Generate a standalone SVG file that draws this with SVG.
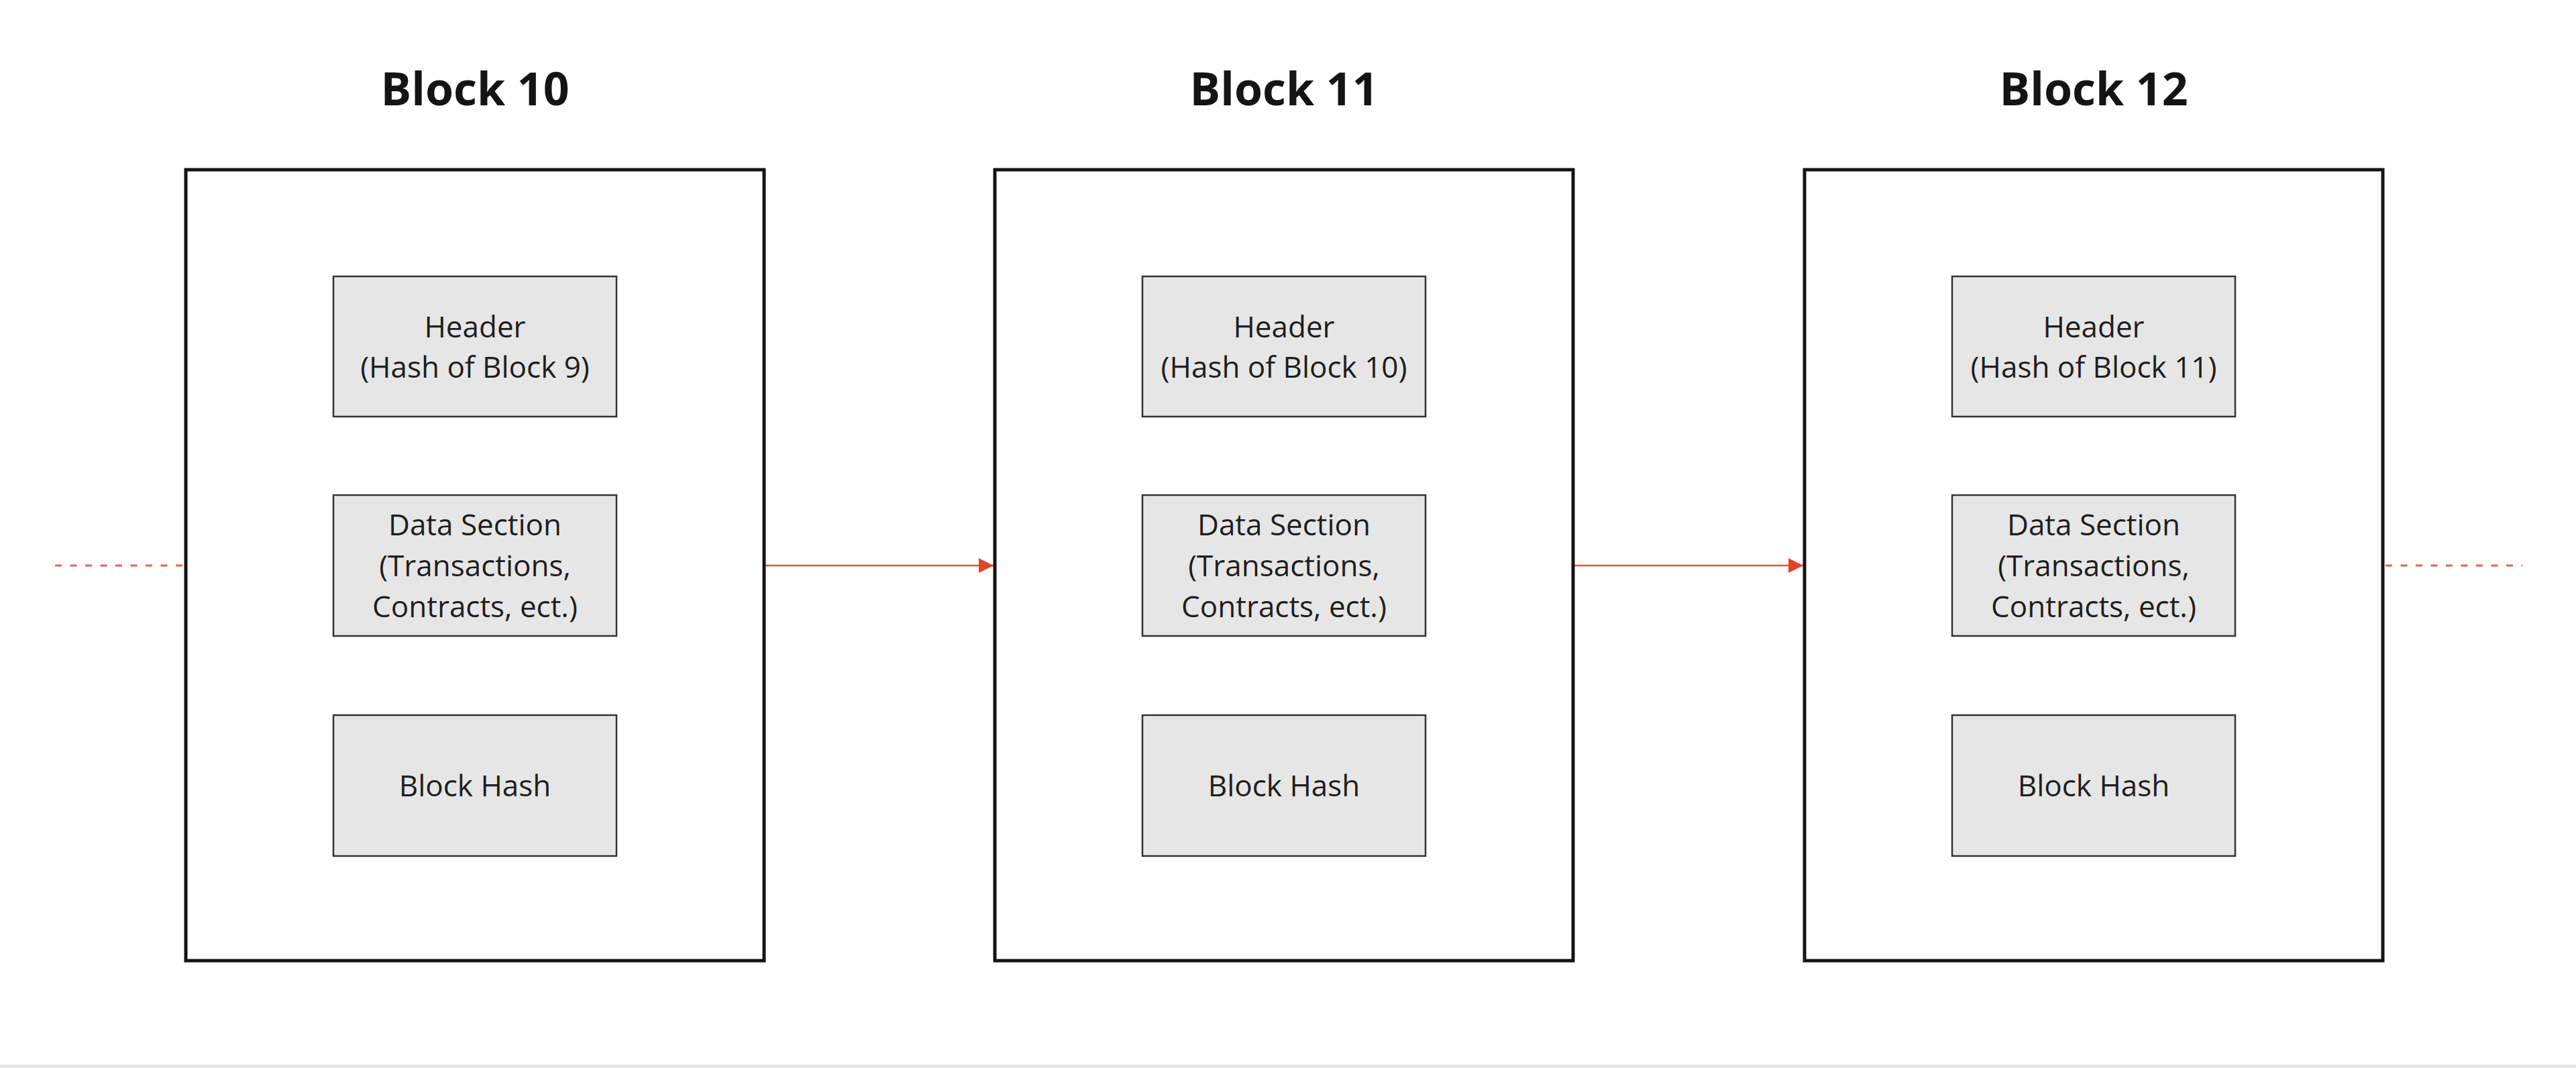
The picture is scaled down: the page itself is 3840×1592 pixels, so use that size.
<svg xmlns="http://www.w3.org/2000/svg" width="3840" height="1592" viewBox="0 0 3840 1592">
  <style>
    .title { font-family: "Open Sans", "Noto Sans", "Liberation Sans", sans-serif; font-weight: 700; font-size: 68px; fill: #141414; text-anchor: middle; }
    .label { font-family: "Open Sans", "Noto Sans", "Liberation Sans", sans-serif; font-size: 44px; fill: #1e1e1e; text-anchor: middle; }
    .outer { fill: #ffffff; stroke: #141414; stroke-width: 5; }
    .inner { fill: #e6e6e6; stroke: #333333; stroke-width: 2.5; }
    .link { stroke: #e2553a; stroke-width: 2.5; fill: none; }
    .dash { stroke: #d9684e; stroke-width: 3; stroke-dasharray: 10 12.5; fill: none; }
  </style>
  <defs>
    <marker id="arrow" viewBox="0 0 22 22" refX="22" refY="11" markerWidth="22" markerHeight="22" markerUnits="userSpaceOnUse" orient="auto">
      <path d="M0,0 L22,11 L0,22 Z" fill="#e2442a"/>
    </marker>
  </defs>
  <rect x="0" y="0" width="3840" height="1592" fill="#ffffff"/>
  <rect x="0" y="1587" width="3840" height="5" fill="#e4e4e4"/>

  <g id="connectors">
    <line class="dash" x1="82" y1="843" x2="275" y2="843"/>
    <line class="link" x1="1140" y1="843" x2="1481" y2="843" marker-end="url(#arrow)"/>
    <line class="link" x1="2346" y1="843" x2="2688" y2="843" marker-end="url(#arrow)"/>
    <line class="dash" x1="3556" y1="843" x2="3760" y2="843"/>
  </g>

  <g id="block10">
    <text class="title" x="708" y="157">Block 10</text>
    <rect class="outer" x="277" y="253" width="862" height="1179"/>
    <g id="block10-header">
      <rect class="inner" x="497" y="412" width="422" height="209"/>
      <text class="label" x="708" y="503">Header</text>
      <text class="label" x="708" y="563">(Hash of Block 9)</text>
    </g>
    <g id="block10-data">
      <rect class="inner" x="497" y="738" width="422" height="210"/>
      <text class="label" x="708" y="798">Data Section</text>
      <text class="label" x="708" y="859">(Transactions,</text>
      <text class="label" x="708" y="920">Contracts, ect.)</text>
    </g>
    <g id="block10-hash">
      <rect class="inner" x="497" y="1066" width="422" height="210"/>
      <text class="label" x="708" y="1187">Block Hash</text>
    </g>
  </g>

  <g id="block11">
    <text class="title" x="1914" y="157">Block 11</text>
    <rect class="outer" x="1483" y="253" width="862" height="1179"/>
    <g id="block11-header">
      <rect class="inner" x="1703" y="412" width="422" height="209"/>
      <text class="label" x="1914" y="503">Header</text>
      <text class="label" x="1914" y="563">(Hash of Block 10)</text>
    </g>
    <g id="block11-data">
      <rect class="inner" x="1703" y="738" width="422" height="210"/>
      <text class="label" x="1914" y="798">Data Section</text>
      <text class="label" x="1914" y="859">(Transactions,</text>
      <text class="label" x="1914" y="920">Contracts, ect.)</text>
    </g>
    <g id="block11-hash">
      <rect class="inner" x="1703" y="1066" width="422" height="210"/>
      <text class="label" x="1914" y="1187">Block Hash</text>
    </g>
  </g>

  <g id="block12">
    <text class="title" x="3121" y="157">Block 12</text>
    <rect class="outer" x="2690" y="253" width="862" height="1179"/>
    <g id="block12-header">
      <rect class="inner" x="2910" y="412" width="422" height="209"/>
      <text class="label" x="3121" y="503">Header</text>
      <text class="label" x="3121" y="563">(Hash of Block 11)</text>
    </g>
    <g id="block12-data">
      <rect class="inner" x="2910" y="738" width="422" height="210"/>
      <text class="label" x="3121" y="798">Data Section</text>
      <text class="label" x="3121" y="859">(Transactions,</text>
      <text class="label" x="3121" y="920">Contracts, ect.)</text>
    </g>
    <g id="block12-hash">
      <rect class="inner" x="2910" y="1066" width="422" height="210"/>
      <text class="label" x="3121" y="1187">Block Hash</text>
    </g>
  </g>
</svg>
